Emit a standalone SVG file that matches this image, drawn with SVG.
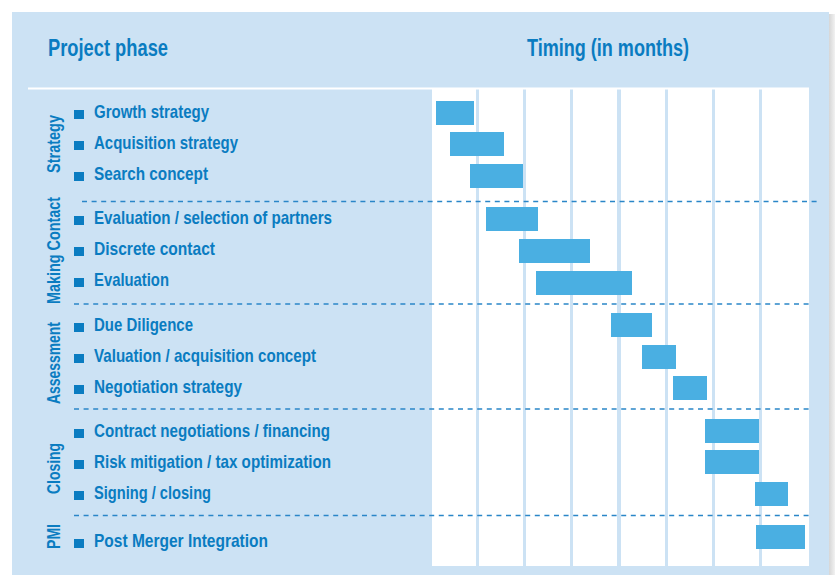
<svg xmlns="http://www.w3.org/2000/svg" width="835" height="575" viewBox="0 0 835 575">
  <defs>
    <linearGradient id="shadow" x1="0" y1="0" x2="1" y2="0">
      <stop offset="0" stop-color="#d6d6d6"/>
      <stop offset="1" stop-color="#f2f2f2"/>
    </linearGradient>
    <style>
      .txt { font-family: "Liberation Sans", Arial, sans-serif; font-weight: bold; fill: #0a7cc1; }
      .head { font-size: 24.5px; }
      .row { font-size: 18.5px; }
      .phase { font-size: 19px; text-anchor: middle; }
      .bullet { fill: #0a7cc1; }
      .bar { fill: #4aafe2; }
      .col { fill: #ffffff; }
      .sep { stroke: #2a86c8; stroke-width: 1.4; stroke-dasharray: 5 4.6; fill: none; }
    </style>
  </defs>
  <rect x="0" y="0" width="835" height="575" fill="#ffffff"/>
  <rect x="829" y="14" width="6" height="561" fill="url(#shadow)"/>
  <rect x="12" y="12" width="817" height="563" fill="#cce2f4"/>

  <g id="grid">
    <rect x="28" y="87.5" width="781" height="2" fill="#ffffff"/>
    <rect class="col" x="432" y="88" width="44" height="478"/>
    <rect class="col" x="479" y="88" width="44" height="478"/>
    <rect class="col" x="526" y="88" width="44" height="478"/>
    <rect class="col" x="573" y="88" width="44" height="478"/>
    <rect class="col" x="621" y="88" width="44" height="478"/>
    <rect class="col" x="668" y="88" width="44" height="478"/>
    <rect class="col" x="715" y="88" width="44" height="478"/>
    <rect class="col" x="762" y="88" width="47" height="478"/>
  </g>

  <g id="headers">
    <text class="txt head" x="48" y="56" textLength="120" lengthAdjust="spacingAndGlyphs">Project phase</text>
    <text class="txt head" x="527" y="56" textLength="162" lengthAdjust="spacingAndGlyphs">Timing (in months)</text>
  </g>

  <g id="phases">
    <text class="txt phase" transform="translate(60,144) rotate(-90)" textLength="58" lengthAdjust="spacingAndGlyphs">Strategy</text>
    <text class="txt phase" transform="translate(60,250.5) rotate(-90)" textLength="107" lengthAdjust="spacingAndGlyphs">Making Contact</text>
    <text class="txt phase" transform="translate(60,363) rotate(-90)" textLength="82" lengthAdjust="spacingAndGlyphs">Assessment</text>
    <text class="txt phase" transform="translate(60,468.5) rotate(-90)" textLength="51" lengthAdjust="spacingAndGlyphs">Closing</text>
    <text class="txt phase" transform="translate(60,536.5) rotate(-90)" textLength="25" lengthAdjust="spacingAndGlyphs">PMI</text>
  </g>

  <g id="connectors">
    <line class="sep" x1="82" y1="201.5" x2="817" y2="201.5"/>
    <line class="sep" x1="74" y1="304" x2="809" y2="304"/>
    <line class="sep" x1="74" y1="409" x2="809" y2="409"/>
    <line class="sep" x1="74" y1="515.5" x2="809" y2="515.5"/>
  </g>

  <g id="growth-strategy">
    <rect class="bullet" x="74" y="110" width="10" height="9"/>
    <text class="txt row" x="94" y="117.5" textLength="115" lengthAdjust="spacingAndGlyphs">Growth strategy</text>
    <rect class="bar" x="436" y="101" width="38" height="24"/>
  </g>
  <g id="acquisition-strategy">
    <rect class="bullet" x="74" y="141" width="10" height="9"/>
    <text class="txt row" x="94" y="148.5" textLength="144" lengthAdjust="spacingAndGlyphs">Acquisition strategy</text>
    <rect class="bar" x="450" y="132" width="54" height="24"/>
  </g>
  <g id="search-concept">
    <rect class="bullet" x="74" y="172" width="10" height="9"/>
    <text class="txt row" x="94" y="179.5" textLength="114" lengthAdjust="spacingAndGlyphs">Search concept</text>
    <rect class="bar" x="470" y="164" width="53" height="24"/>
  </g>
  <g id="evaluation-selection">
    <rect class="bullet" x="74" y="216" width="10" height="9"/>
    <text class="txt row" x="94" y="223.5" textLength="238" lengthAdjust="spacingAndGlyphs">Evaluation / selection of partners</text>
    <rect class="bar" x="486" y="207" width="52" height="24"/>
  </g>
  <g id="discrete-contact">
    <rect class="bullet" x="74" y="247" width="10" height="9"/>
    <text class="txt row" x="94" y="254.5" textLength="121" lengthAdjust="spacingAndGlyphs">Discrete contact</text>
    <rect class="bar" x="519" y="239" width="71" height="24"/>
  </g>
  <g id="evaluation">
    <rect class="bullet" x="74" y="278" width="10" height="9"/>
    <text class="txt row" x="94" y="285.5" textLength="75" lengthAdjust="spacingAndGlyphs">Evaluation</text>
    <rect class="bar" x="536" y="271" width="96" height="24"/>
  </g>
  <g id="due-diligence">
    <rect class="bullet" x="74" y="323" width="10" height="9"/>
    <text class="txt row" x="94" y="330.5" textLength="99" lengthAdjust="spacingAndGlyphs">Due Diligence</text>
    <rect class="bar" x="611" y="313" width="41" height="24"/>
  </g>
  <g id="valuation">
    <rect class="bullet" x="74" y="354" width="10" height="9"/>
    <text class="txt row" x="94" y="361.5" textLength="222" lengthAdjust="spacingAndGlyphs">Valuation / acquisition concept</text>
    <rect class="bar" x="642" y="345" width="34" height="24"/>
  </g>
  <g id="negotiation-strategy">
    <rect class="bullet" x="74" y="385" width="10" height="9"/>
    <text class="txt row" x="94" y="392.5" textLength="148" lengthAdjust="spacingAndGlyphs">Negotiation strategy</text>
    <rect class="bar" x="673" y="376" width="34" height="24"/>
  </g>
  <g id="contract-negotiations">
    <rect class="bullet" x="74" y="429" width="10" height="9"/>
    <text class="txt row" x="94" y="436.5" textLength="236" lengthAdjust="spacingAndGlyphs">Contract negotiations / financing</text>
    <rect class="bar" x="705" y="419" width="54" height="24"/>
  </g>
  <g id="risk-mitigation">
    <rect class="bullet" x="74" y="460" width="10" height="9"/>
    <text class="txt row" x="94" y="467.5" textLength="237" lengthAdjust="spacingAndGlyphs">Risk mitigation / tax optimization</text>
    <rect class="bar" x="705" y="450" width="54" height="24"/>
  </g>
  <g id="signing-closing">
    <rect class="bullet" x="74" y="491" width="10" height="9"/>
    <text class="txt row" x="94" y="498.5" textLength="117" lengthAdjust="spacingAndGlyphs">Signing / closing</text>
    <rect class="bar" x="755" y="482" width="33" height="24"/>
  </g>
  <g id="post-merger-integration">
    <rect class="bullet" x="74" y="539" width="10" height="9"/>
    <text class="txt row" x="94" y="546.5" textLength="174" lengthAdjust="spacingAndGlyphs">Post Merger Integration</text>
    <rect class="bar" x="756" y="525" width="49" height="24"/>
  </g>
</svg>
